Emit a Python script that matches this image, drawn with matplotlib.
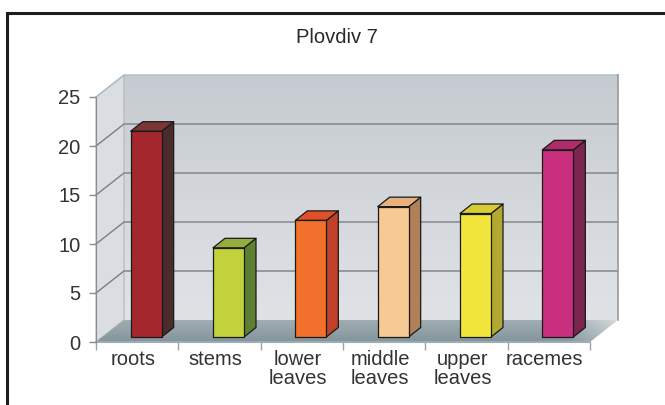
import numpy as np
import matplotlib
matplotlib.use("Agg")
import matplotlib.pyplot as plt
from matplotlib.patches import Polygon, Rectangle
from matplotlib.colors import LinearSegmentedColormap
from matplotlib.transforms import ScaledTranslation

plt.rcParams['font.family'] = ['Liberation Sans', 'DejaVu Sans']

# data
categories = ["roots", "stems", "lower\nleaves", "middle\nleaves", "upper\nleaves", "racemes"]
values = [21.0, 9.1, 11.9, 13.3, 12.6, 19.1]
front_colors = ["#a5272e", "#c1d23c", "#f0702c", "#f7c993", "#f2e63c", "#c8307e"]
side_colors = ["#4b2b2b", "#5f8030", "#c0402a", "#b08058", "#b2a832", "#7c2450"]
top_colors = ["#7b3535", "#93ae3e", "#e0502a", "#e8b07c", "#d8cc34", "#b02a6c"]
yticks = [0, 5, 10, 15, 20, 25]
title = "Plovdiv 7"

W, H, DPI = 665, 405, 100
fig = plt.figure(figsize=(W / DPI, H / DPI), dpi=DPI)
fig.patch.set_facecolor("white")

# outer chart frame
fig.add_artist(Rectangle((7 / W, -0.05), 1.1, 1 - 13 / H + 0.05, transform=fig.transFigure,
                         fill=False, edgecolor="#1e1e1e", linewidth=2.2))

# front plane of the plot area
L, R, B, T = 96, 590, 342, 97
ax = fig.add_axes([L / W, 1 - B / H, (R - L) / W, (B - T) / H])
n = len(categories)
ax.set_xlim(-0.5, n - 0.5)
ax.set_ylim(0, 25)
ax.patch.set_visible(False)

ppx = (R - L) / n          # pixels per category
ppy = (B - T) / 25.0       # pixels per unit
DX, DY = 28 / ppx, 22 / ppy  # depth of the floor / walls

x_left, x_right = -0.5, n - 0.5


def gradient_fill(arr, cmap, extent, clip_poly, z):
    img = ax.imshow(arr, cmap=cmap, vmin=0, vmax=1, aspect="auto", origin="lower",
                    extent=extent, zorder=z, interpolation="bilinear")
    img.set_clip_path(clip_poly)
    img.set_clip_box(fig.bbox)
    return img


# back wall with vertical gradient
wall_cmap = LinearSegmentedColormap.from_list("wall", ["#e0e3e6", "#c6cbd1"])
back = Polygon([(x_left + DX, DY), (x_right + DX, DY), (x_right + DX, 25 + DY), (x_left + DX, 25 + DY)],
               closed=True, facecolor="none", edgecolor="none", clip_on=False)
ax.add_patch(back)
grad = np.linspace(0, 1, 256).reshape(-1, 1)
gradient_fill(grad, wall_cmap, (x_left + DX, x_right + DX, DY, 25 + DY), back, 0.5)

# left side wall
side = Polygon([(x_left, 0), (x_left, 25), (x_left + DX, 25 + DY), (x_left + DX, DY)],
               closed=True, facecolor="#dadde1", edgecolor="#b0b6ba", linewidth=0.8,
               clip_on=False, zorder=0.6)
ax.add_patch(side)

# gridlines on side wall and back wall
for v in yticks[1:-1]:
    ax.plot([x_left, x_left + DX, x_right + DX], [v, v + DY, v + DY],
            color="#7c7f82", linewidth=1.0, clip_on=False, zorder=0.8)
ax.plot([x_left, x_left + DX, x_right + DX], [25, 25 + DY, 25 + DY],
        color="#a9bfc3", linewidth=1.0, clip_on=False, zorder=0.8)
ax.plot([x_right + DX, x_right + DX], [DY, 25 + DY], color="#9a9a9a",
        linewidth=1.2, clip_on=False, zorder=0.8)

# floor with gradient
floor = Polygon([(x_left, 0), (x_right, 0), (x_right + DX, DY), (x_left + DX, DY)],
                closed=True, facecolor="none", edgecolor="none", clip_on=False)
ax.add_patch(floor)
fx = np.linspace(0, 1, 300)
fy = np.linspace(0, 1, 60)
FX, FY = np.meshgrid(fx, fy)
shade = 0.1 + 0.3 * FY + 0.55 * np.clip((FX - 0.9) / 0.1, 0, 1)
floor_cmap = LinearSegmentedColormap.from_list("floor", ["#7a8c94", "#a9b6bb", "#d9dee1"])
gradient_fill(np.clip(shade, 0, 1), floor_cmap, (x_left, x_right + DX, 0, DY), floor, 0.9)
ax.plot([x_left, x_right], [0, 0], color="#9fb2b6", linewidth=1.2, clip_on=False, zorder=1.0)

# 3D bars
bw = 31 / ppx
sx, sy = 9 / ppx, 5 / ppy
bdx, bdy = 12 / ppx, 9.5 / ppy
for i, v in enumerate(values):
    x0 = i - bw / 2 + sx
    y0 = sy
    kw = dict(edgecolor="#1a1a1a", linewidth=0.9, clip_on=False, joinstyle="round")
    ax.add_patch(Polygon([(x0 + bw, y0), (x0 + bw + bdx, y0 + bdy),
                          (x0 + bw + bdx, y0 + v + bdy), (x0 + bw, y0 + v)],
                         facecolor=side_colors[i], zorder=2, **kw))
    ax.add_patch(Polygon([(x0, y0 + v), (x0 + bw, y0 + v),
                          (x0 + bw + bdx, y0 + v + bdy), (x0 + bdx, y0 + v + bdy)],
                         facecolor=top_colors[i], zorder=2, **kw))
    ax.add_patch(Rectangle((x0, y0), bw, v, facecolor=front_colors[i], zorder=3, **kw))

# axes styling
for s in ["top", "right"]:
    ax.spines[s].set_visible(False)
ax.spines["left"].set_color("#8c8c8c")
ax.spines["bottom"].set_color("#a0aeb2")
ax.spines["left"].set_zorder(4)

ax.set_yticks(yticks)
ax.set_yticklabels([str(t) for t in yticks])
ax.tick_params(axis="y", length=5, width=1, color="#8c8c8c", pad=6,
               labelsize=14.5, labelcolor="#333333")

ax.set_xticks(range(n))
ax.set_xticklabels(categories, linespacing=1.0)
ax.set_xticks(np.arange(-0.5, n, 1.0), minor=True)
ax.tick_params(axis="x", which="major", length=0, pad=6, labelsize=14.5, labelcolor="#333333")
ax.tick_params(axis="x", which="minor", length=6, width=1, color="#9aa4a8")
shift = ScaledTranslation(-4 / DPI, 0, fig.dpi_scale_trans)
for lab in ax.get_xticklabels():
    lab.set_transform(lab.get_transform() + shift)

fig.text(337 / W, 1 - 42.7 / H, title, ha="center", va="baseline",
         fontsize=14.5, color="#2a2a2a")

fig.savefig("out.png", dpi=DPI)
